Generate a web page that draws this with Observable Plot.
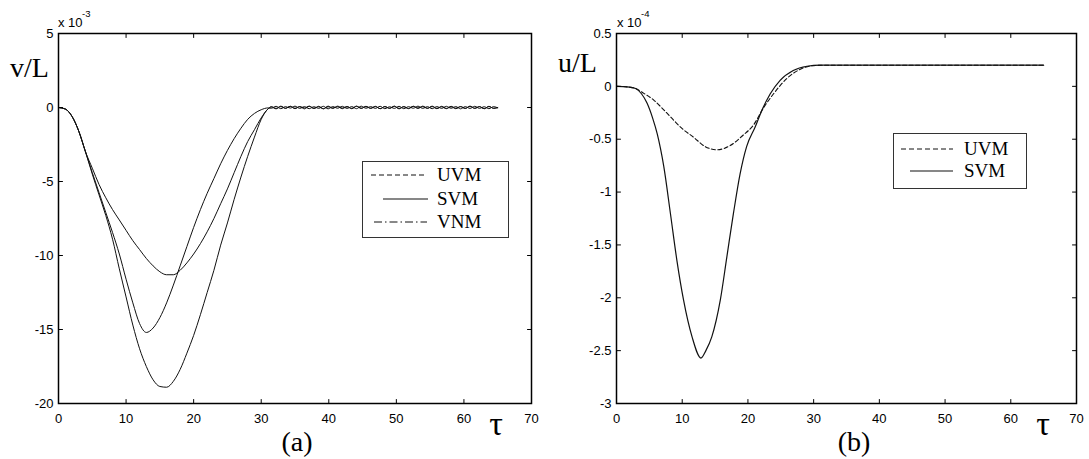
<!DOCTYPE html>
<html><head><meta charset="utf-8">
<script src="https://cdn.jsdelivr.net/npm/d3@7"></script>
<script src="https://cdn.jsdelivr.net/npm/@observablehq/plot@0.6"></script>
<style>
body{margin:0;background:#fff;}
#wrap{position:relative;width:1089px;height:459px;overflow:hidden;background:#fff;}
#pa,#pb{position:absolute;top:0;}
#pa{left:0px}
#pb{left:545px}
#ov{position:absolute;left:0;top:0;}
</style></head>
<body>
<div id="wrap"><div id="pa"></div><div id="pb"></div><svg id="ov" width="1089" height="459"></svg></div>
<script>
// ---------- data: panel (a) v/L  (x 10^-3) ----------
const tauA = [0,1,2,3,4,5,6,7,8,9,10,11,12,13,14,15,16,17,18,19,20,21,22,23,24,25,26,27,28,29,30,31,
  31.5,32.2,32.9,33.6,34.3,35.0,35.7,
  36.4,37.1,37.8,38.5,39.2,39.9,40.6,
  41.3,42.0,42.7,43.4,44.1,44.8,45.5,
  46.2,46.9,47.6,48.3,49.0,49.7,50.4,
  51.1,51.8,52.5,53.2,53.9,54.6,55.3,
  56.0,56.7,57.4,58.1,58.8,59.5,60.2,
  60.9,61.6,62.3,63.0,63.7,64.4,65.0];
const uvmA = [0,-0.1,-0.6,-1.6,-3.0,-4.1,-5.2,-6.1,-6.9,-7.6,-8.3,-9.0,-9.6,-10.2,-10.7,-11.1,-11.3,-11.3,-11.0,-10.5,-9.9,-9.2,-8.4,-7.5,-6.5,-5.5,-4.4,-3.3,-2.3,-1.5,-0.7,-0.1,
  0.06,-0.06,0.09,-0.05,0.08,-0.08,0.06,
  -0.03,0.09,-0.06,0.08,-0.09,0.05,-0.06,
  0.09,-0.04,0.06,-0.08,0.08,-0.05,0.06,
  -0.06,0.08,-0.08,0.06,-0.05,0.09,-0.06,
  0.06,-0.08,0.08,-0.04,0.06,-0.06,0.09,
  -0.06,0.05,-0.08,0.08,-0.05,0.06,-0.06,
  0.08,-0.06,0.06,-0.08,0.06,-0.05,0.0];
const svmA = [0,-0.1,-0.6,-1.6,-3.0,-4.4,-5.75,-7.1,-8.45,-9.9,-11.6,-13.2,-14.6,-15.2,-14.9,-14.2,-13.2,-12.0,-10.7,-9.4,-8.1,-6.9,-5.8,-4.8,-3.8,-2.9,-2.1,-1.4,-0.8,-0.4,-0.15,-0.03,
  -0.05,0.08,-0.08,0.06,-0.04,0.09,-0.06,
  0.06,-0.08,0.05,-0.06,0.08,-0.09,0.06,
  -0.05,0.08,-0.06,0.06,-0.08,0.09,-0.05,
  0.06,-0.06,0.08,-0.08,0.05,-0.06,0.08,
  -0.08,0.06,-0.05,0.09,-0.06,0.06,-0.08,
  0.06,-0.06,0.08,-0.05,0.06,-0.09,0.06,
  -0.06,0.08,-0.06,0.05,-0.08,0.06,-0.03];
const vnmA = [0,-0.1,-0.6,-1.6,-3.0,-4.5,-5.9,-7.3,-8.9,-10.9,-12.8,-14.7,-16.3,-17.5,-18.4,-18.85,-18.9,-18.5,-17.7,-16.6,-15.4,-14.0,-12.5,-11.0,-9.3,-7.8,-6.2,-4.7,-3.3,-2.0,-0.8,-0.1,
  0.03,-0.09,0.06,-0.06,0.08,-0.05,0.06,
  -0.09,0.08,-0.06,0.05,-0.08,0.09,-0.04,
  0.06,-0.08,0.06,-0.06,0.09,-0.06,0.08,
  -0.05,0.06,-0.08,0.06,-0.06,0.08,-0.09,
  0.05,-0.06,0.08,-0.06,0.09,-0.05,0.06,
  -0.08,0.08,-0.06,0.05,-0.08,0.06,-0.06,
  0.09,-0.05,0.06,-0.08,0.08,-0.06,0.0];

// ---------- data: panel (b) u/L  (x 10^-4) ----------
const tauB_svm = [0,1,2,2.9,3.8,4.66,5.5,6.2,7.2,8.2,9.2,10.2,11.5,12.85,13.6,14.5,15.8,16.8,17.8,18.8,19.8,21.1,22.1,23.4,24.9,26.9,29,31,35,65];
const svmB = [0,-0.002,-0.008,-0.02,-0.07,-0.16,-0.3,-0.45,-0.76,-1.2,-1.65,-2.02,-2.37,-2.57,-2.5,-2.37,-2.02,-1.61,-1.2,-0.83,-0.57,-0.385,-0.23,-0.07,0.057,0.15,0.19,0.2,0.2,0.2];
const tauB_uvm = [0,1,2,2.9,4,5.67,7,8.7,10,11.7,13.5,15.3,17.3,19.3,20.8,22.4,23.9,25.9,27.9,30,32,65];
const uvmB = [0,-0.002,-0.008,-0.02,-0.06,-0.13,-0.21,-0.32,-0.4,-0.48,-0.57,-0.6,-0.56,-0.46,-0.37,-0.2,-0.07,0.073,0.16,0.196,0.2,0.2];

// ---------- ticks ----------
const xTicks = [0,10,20,30,40,50,60,70];
const yTicksA = [5,0,-5,-10,-15,-20];
const yTicksB = [0.5,0,-0.5,-1,-1.5,-2,-2.5,-3];

// ---------- build rows ----------
const rowsA = [];
[["UVM", uvmA],["SVM", svmA],["VNM", vnmA]].forEach(([s, arr]) => {
  const n = Math.min(arr.length, tauA.length);
  for (let i = 0; i < n; i++) rowsA.push({s, t: tauA[i], v: arr[i]});
});
const rowsB = [];
tauB_svm.forEach((t, i) => rowsB.push({s: "SVM", t, v: svmB[i]}));
tauB_uvm.forEach((t, i) => rowsB.push({s: "UVM", t, v: uvmB[i]}));

const tickShape = {draw(ctx, l) { ctx.moveTo(0, 0); ctx.lineTo(0, -l); }};

function panel(cfg) {
  const xD = [0, 70], yD = cfg.yDomain;
  const tk = {length: 4, anchor: "start", shape: tickShape, stroke: "#000", strokeWidth: 1};
  return Plot.plot({
    width: cfg.width, height: 459,
    marginLeft: cfg.ml, marginRight: cfg.mr, marginTop: 33, marginBottom: 56,
    style: {fontFamily: "'Liberation Sans', Arial, sans-serif", fontSize: "13px", background: "transparent", color: "#000"},
    x: {domain: xD}, y: {domain: yD},
    marks: [
      ...cfg.lines,
      Plot.vector(xTicks, {x: d => d, y: () => yD[0], rotate: 0, ...tk}),
      Plot.vector(xTicks, {x: d => d, y: () => yD[1], rotate: 180, ...tk}),
      Plot.vector(cfg.yTicks, {x: () => xD[0], y: d => d, rotate: 90, ...tk}),
      Plot.vector(cfg.yTicks, {x: () => xD[1], y: d => d, rotate: -90, ...tk}),
      Plot.frame({stroke: "#000", strokeWidth: 1.5}),
      Plot.axisX(xTicks, {tickSize: 0, tickPadding: 10, tickFormat: d => String(d), label: null}),
      Plot.axisY(cfg.yTicks, {tickSize: 0, tickPadding: 5, tickFormat: d => String(d), label: null})
    ]
  });
}

document.getElementById("pa").append(panel({
  width: 545, ml: 58, mr: 14, yDomain: [-20, 5], yTicks: yTicksA,
  lines: [Plot.line(rowsA, {x: "t", y: "v", z: "s", stroke: "#111", strokeWidth: 1, curve: "monotone-x"})]
}));
document.getElementById("pb").append(panel({
  width: 544, ml: 71, mr: 13, yDomain: [-3, 0.5], yTicks: yTicksB,
  lines: [
    Plot.line(rowsB.filter(d => d.s === "UVM"), {x: "t", y: "v", stroke: "#111", strokeWidth: 1.1, strokeDasharray: "4,2.5", curve: "monotone-x"}),
    Plot.line(rowsB.filter(d => d.s === "SVM"), {x: "t", y: "v", stroke: "#111", strokeWidth: 1.2, curve: "monotone-x"})
  ]
}));

// ---------- annotations & legends ----------
const sans = "'Liberation Sans', Arial, sans-serif";
const serif = "'Liberation Serif', 'Times New Roman', serif";
document.getElementById("ov").innerHTML = `
  <g font-family="${sans}" fill="#000">
    <text x="58" y="27" font-size="13">x 10</text>
    <text x="82" y="17" font-size="9.5">-3</text>
    <text x="617" y="27" font-size="13">x 10</text>
    <text x="641" y="17" font-size="9.5">-4</text>
  </g>
  <g font-family="${serif}" fill="#000">
    <text x="10" y="77" font-size="28">v/L</text>
    <text x="558" y="72" font-size="28">u/L</text>
    <text x="297" y="451" font-size="28" text-anchor="middle">(a)</text>
    <text x="854" y="451" font-size="28" text-anchor="middle">(b)</text>
    <text x="496" y="435" font-size="34" text-anchor="middle">τ</text>
    <text x="1043" y="435" font-size="34" text-anchor="middle">τ</text>
  </g>
  <g>
    <rect x="362.5" y="161.5" width="146" height="76" fill="#fff" stroke="#333" stroke-width="1"/>
    <line x1="371" y1="175" x2="427" y2="175" stroke="#111" stroke-dasharray="5,3"/>
    <line x1="383" y1="199" x2="428" y2="199" stroke="#111" stroke-width="1.2"/>
    <line x1="374" y1="222" x2="427" y2="222" stroke="#111" stroke-dasharray="8,3,1.5,3"/>
    <g font-family="${serif}" font-size="19" fill="#000">
      <text x="437" y="181">UVM</text>
      <text x="437" y="205">SVM</text>
      <text x="437" y="228">VNM</text>
    </g>
    <rect x="893.5" y="133.5" width="133" height="55" fill="#fff" stroke="#333" stroke-width="1"/>
    <line x1="901" y1="149" x2="953" y2="149" stroke="#111" stroke-dasharray="5,3"/>
    <line x1="910" y1="171" x2="953" y2="171" stroke="#111" stroke-width="1.2"/>
    <g font-family="${serif}" font-size="19" fill="#000">
      <text x="964" y="155">UVM</text>
      <text x="964" y="177">SVM</text>
    </g>
  </g>`;
</script>
</body></html>
